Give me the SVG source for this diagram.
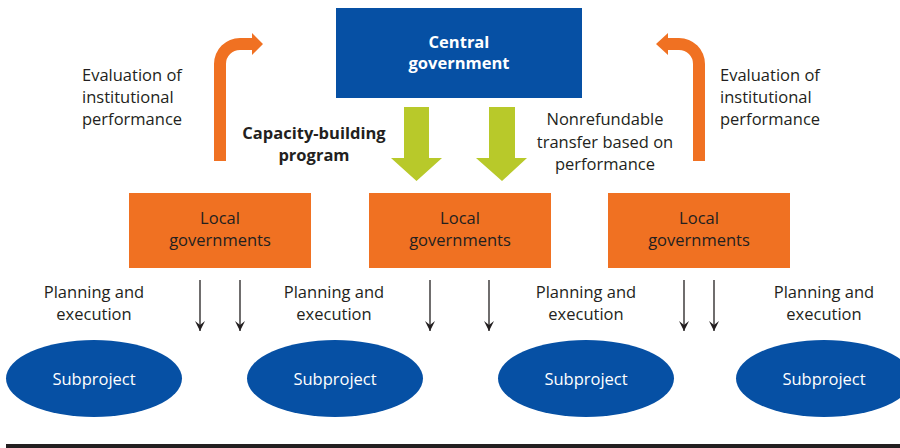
<svg xmlns="http://www.w3.org/2000/svg" width="900" height="448" viewBox="0 0 900 448">
<defs>
<marker id="ah" viewBox="0 0 10 10" refX="10" refY="5" markerWidth="10" markerHeight="10" markerUnits="userSpaceOnUse" orient="auto">
<path d="M0,0 L10,5 L0,10 L4,5 Z" fill="#231F20"/>
</marker>
<style>
text{font-family:"Open Sans","Noto Sans","Liberation Sans",sans-serif;font-size:16.5px;fill:#231F20}
.c{text-anchor:middle}
.w{fill:#ffffff}
.b{font-weight:bold}
.blue{fill:#0650A4}
.org{fill:#F07122}
.grn{fill:#B8C92A}
.thin{stroke:#231F20;stroke-width:1.3;fill:none}
</style>
</defs>
<rect width="900" height="448" fill="#ffffff"/>
<g id="connectors">
<path class="grn" d="M404,107 H429 V158 H442 L416.5,181 L391,158 H404 Z"/>
<path class="grn" d="M489,107 H515 V158 H527 L502,181 L476,158 H489 Z"/>
<path class="org" d="M214,161 V64 A26,26 0 0 1 240,38 H252 V33 L263,44 L252,55 V50 H240 A14,14 0 0 0 226,64 V161 Z"/>
<path class="org" d="M705,161 V64 A26,26 0 0 0 679,38 H668 V33 L656,44 L668,55 V50 H679 A14,14 0 0 1 693,64 V161 Z"/>
<line class="thin" x1="200" y1="280" x2="200" y2="331" marker-end="url(#ah)"/>
<line class="thin" x1="240" y1="280" x2="240" y2="331" marker-end="url(#ah)"/>
<line class="thin" x1="430" y1="280" x2="430" y2="331" marker-end="url(#ah)"/>
<line class="thin" x1="489" y1="280" x2="489" y2="331" marker-end="url(#ah)"/>
<line class="thin" x1="684" y1="280" x2="684" y2="331" marker-end="url(#ah)"/>
<line class="thin" x1="714" y1="280" x2="714" y2="331" marker-end="url(#ah)"/>
</g>
<g id="central">
<rect class="blue" x="336" y="8" width="246" height="90"/>
<text class="c w b" x="459" y="48">Central</text>
<text class="c w b" x="459" y="69">government</text>
</g>
<g id="local1">
<rect class="org" x="129" y="193" width="182" height="75"/>
<text class="c" x="220" y="224">Local</text>
<text class="c" x="220" y="246">governments</text>
</g>
<g id="local2">
<rect class="org" x="369" y="193" width="182" height="75"/>
<text class="c" x="460" y="224">Local</text>
<text class="c" x="460" y="246">governments</text>
</g>
<g id="local3">
<rect class="org" x="608" y="193" width="182" height="75"/>
<text class="c" x="699" y="224">Local</text>
<text class="c" x="699" y="246">governments</text>
</g>
<g id="sub1">
<ellipse class="blue" cx="94" cy="378.5" rx="88" ry="38.5"/>
<text class="c w" x="94" y="385">Subproject</text>
</g>
<g id="sub2">
<ellipse class="blue" cx="335" cy="378.5" rx="88" ry="38.5"/>
<text class="c w" x="335" y="385">Subproject</text>
</g>
<g id="sub3">
<ellipse class="blue" cx="586" cy="378.5" rx="88" ry="38.5"/>
<text class="c w" x="586" y="385">Subproject</text>
</g>
<g id="sub4">
<ellipse class="blue" cx="824" cy="378.5" rx="88" ry="38.5"/>
<text class="c w" x="824" y="385">Subproject</text>
</g>
<g id="labels">
<text x="82" y="81">Evaluation of</text>
<text x="82" y="103">institutional</text>
<text x="82" y="125">performance</text>
<text x="720" y="81">Evaluation of</text>
<text x="720" y="103">institutional</text>
<text x="720" y="125">performance</text>
<text class="c b" x="314" y="139">Capacity-building</text>
<text class="c b" x="314" y="161">program</text>
<text class="c" x="605" y="125">Nonrefundable</text>
<text class="c" x="605" y="148">transfer based on</text>
<text class="c" x="605" y="170">performance</text>
<text class="c" x="94" y="298">Planning and</text>
<text class="c" x="94" y="320">execution</text>
<text class="c" x="334" y="298">Planning and</text>
<text class="c" x="334" y="320">execution</text>
<text class="c" x="586" y="298">Planning and</text>
<text class="c" x="586" y="320">execution</text>
<text class="c" x="824" y="298">Planning and</text>
<text class="c" x="824" y="320">execution</text>
</g>
<rect x="6" y="444" width="894" height="4" fill="#231F20"/>
</svg>
